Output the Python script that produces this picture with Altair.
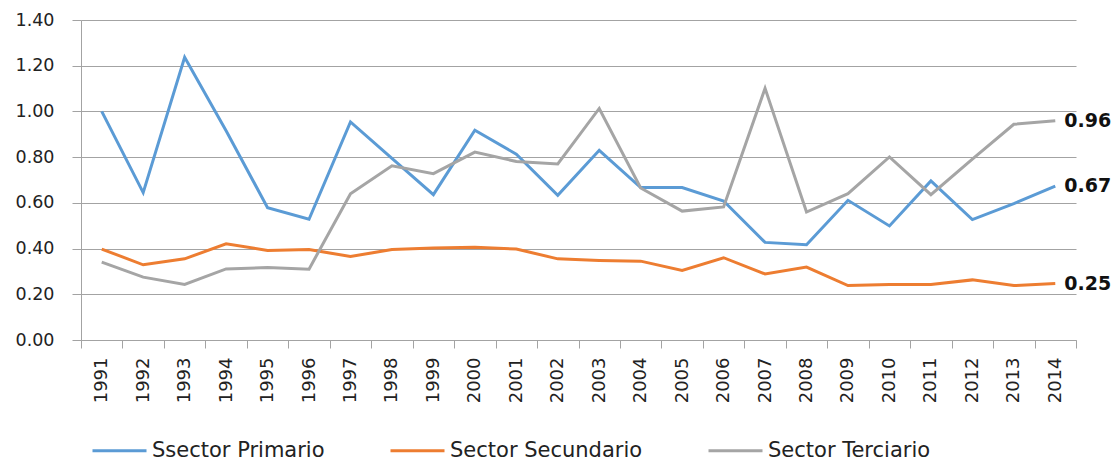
import altair as alt
import pandas as pd

years = ["1991", "1992", "1993", "1994", "1995", "1996", "1997", "1998",
         "1999", "2000", "2001", "2002", "2003", "2004", "2005", "2006",
         "2007", "2008", "2009", "2010", "2011", "2012", "2013", "2014"]

series_names = ["Ssector Primario", "Sector Secundario", "Sector Terciario"]
series_colors = ["#5B9BD5", "#ED7D31", "#A5A5A5"]

primario = [1.00, 0.645, 1.237, 0.915, 0.579, 0.528, 0.954, 0.795, 0.636, 0.918,
            0.813, 0.633, 0.830, 0.667, 0.667, 0.608, 0.427, 0.417, 0.611, 0.499,
            0.696, 0.527, 0.597, 0.673]
secundario = [0.398, 0.329, 0.355, 0.421, 0.392, 0.396, 0.365, 0.396, 0.402, 0.406,
              0.398, 0.355, 0.348, 0.345, 0.304, 0.360, 0.289, 0.319, 0.238, 0.243,
              0.243, 0.263, 0.238, 0.247]
terciario = [0.341, 0.275, 0.243, 0.311, 0.317, 0.310, 0.640, 0.762, 0.728, 0.822,
             0.781, 0.770, 1.013, 0.665, 0.564, 0.582, 1.101, 0.560, 0.640, 0.801,
             0.636, 0.791, 0.944, 0.959]

y_ticks = [0.0, 0.2, 0.4, 0.6, 0.8, 1.0, 1.2, 1.4]

rows = []
for name, vals in zip(series_names, [primario, secundario, terciario]):
    for yr, v in zip(years, vals):
        rows.append({"year": yr, "value": v, "series": name})
df = pd.DataFrame(rows)

last = df[df["year"] == years[-1]].copy()
last["label"] = last["value"].map(lambda v: f"{v:.2f}")

FONT = "DejaVu Sans"
AXIS_GREY = "#a3a3a3"

x_enc = alt.X(
    "year:O",
    sort=years,
    bandPosition=0.5,
    scale=alt.Scale(type="band", paddingInner=0, paddingOuter=0),
    axis=alt.Axis(
        title=None, labelAngle=-90, tickBand="extent", grid=False,
        domainColor=AXIS_GREY, tickColor=AXIS_GREY, tickSize=8,
        labelPadding=9, labelFont=FONT, labelFontSize=18, labelColor="#222222",
    ),
)
y_enc = alt.Y(
    "value:Q",
    scale=alt.Scale(domain=[0, 1.4], nice=False, zero=True),
    axis=alt.Axis(
        title=None, values=y_ticks, format=".2f", grid=True,
        gridColor=AXIS_GREY, gridWidth=1, domainColor=AXIS_GREY,
        tickColor=AXIS_GREY, tickSize=9, labelPadding=18,
        labelFont=FONT, labelFontSize=17.5, labelColor="#222222",
    ),
)
color_enc = alt.Color(
    "series:N",
    sort=series_names,
    scale=alt.Scale(domain=series_names, range=series_colors),
    legend=alt.Legend(
        title=None, orient="none", legendX=10, legendY=402,
        direction="horizontal", symbolType="stroke", symbolSize=2916,
        symbolStrokeWidth=3, labelFont=FONT, labelFontSize=21, labelLimit=0,
        labelColor="#222222", columnPadding=59, labelOffset=4,
    ),
)

layers = []
for name in series_names:
    layers.append(
        alt.Chart(df)
        .transform_filter(alt.datum.series == name)
        .mark_line(strokeWidth=3)
        .encode(x=x_enc, y=y_enc, color=color_enc)
    )

labels = (
    alt.Chart(last)
    .mark_text(align="left", baseline="middle", dx=9, font=FONT,
               fontSize=19, fontWeight="bold", color="#111111")
    .encode(x=alt.X("year:O", sort=years, bandPosition=0.5), y="value:Q",
            text="label:N")
)

chart = (
    alt.layer(*layers, labels)
    .properties(
        width=995, height=320,
        autosize=alt.AutoSizeParams(type="none"),
        padding={"left": 73, "top": 12, "right": 36, "bottom": 121},
    )
    .configure_view(stroke=None)
)

chart.save("out.html", embed_options={"renderer": "svg", "actions": False})
